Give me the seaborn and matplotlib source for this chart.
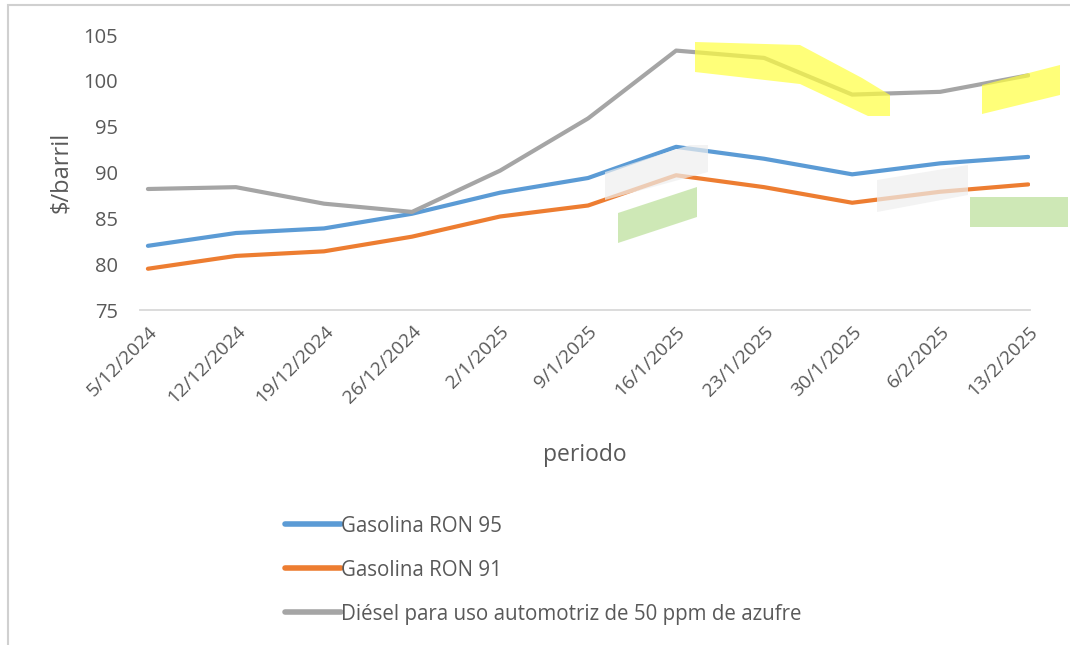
import numpy as np
import pandas as pd
import matplotlib
matplotlib.use("Agg")
import matplotlib.pyplot as plt
from matplotlib.patches import Polygon, Rectangle
import seaborn as sns

# ==============================
# Data
# ==============================
periodos = ["5/12/2024", "12/12/2024", "19/12/2024", "26/12/2024", "2/1/2025",
            "9/1/2025", "16/1/2025", "23/1/2025", "30/1/2025", "6/2/2025", "13/2/2025"]
ron95 = [82.0, 83.4, 83.9, 85.5, 87.8, 89.4, 92.8, 91.5, 89.8, 91.0, 91.7]
ron91 = [79.5, 80.9, 81.4, 83.0, 85.2, 86.4, 89.7, 88.4, 86.7, 87.9, 88.7]
diesel = [88.2, 88.4, 86.6, 85.7, 90.2, 95.9, 103.3, 102.5, 98.5, 98.8, 100.6]

series_names = ["Gasolina RON 95", "Gasolina RON 91",
                "Diésel para uso automotriz de 50 ppm de azufre"]
colors = ["#5B9BD5", "#ED7D31", "#A5A5A5"]

df = pd.DataFrame({
    "pos": list(range(len(periodos))) * 3,
    "valor": ron95 + ron91 + diesel,
    "serie": np.repeat(series_names, len(periodos)),
})

# ==============================
# Style
# ==============================
sns.set_style("white")
plt.rcParams["font.family"] = ["Open Sans", "DejaVu Sans"]
txt = "#595959"
axc = "#D9D9D9"

W, H = 1070, 645
fig = plt.figure(figsize=(W / 100, H / 100), dpi=100)
ax = fig.add_axes([140 / W, 1 - 310 / H, (1030 - 140) / W, (310 - 35) / H])

sns.lineplot(data=df, x="pos", y="valor", hue="serie", hue_order=series_names,
             palette=colors, linewidth=3.0, ax=ax, legend=False,
             solid_capstyle="round")

ax.set_ylim(75, 105)
ax.set_yticks(range(75, 106, 5))
ax.set_xlim(-0.09, 10.02)
ax.set_xticks(range(len(periodos)))
ax.set_xticklabels(periodos, rotation=45, ha="right", rotation_mode="anchor")

for s in ["top", "right", "left"]:
    ax.spines[s].set_visible(False)
ax.spines["bottom"].set_color(axc)
ax.spines["bottom"].set_linewidth(1.3)
ax.tick_params(axis="y", length=0, labelsize=14.5, labelcolor=txt, pad=16)
ax.tick_params(axis="x", length=8, width=1.3, color=axc, direction="out",
               labelsize=13.8, labelcolor=txt, pad=1)

ax.set_ylabel("$/barril", fontsize=17, color=txt, labelpad=7)
ax.set_xlabel("periodo", fontsize=16.5, color=txt, labelpad=26)

# legend below the plot
handles = [plt.Line2D([], [], color=c, lw=4, solid_capstyle="round") for c in colors]
fig.legend(handles, series_names, loc="upper left",
           bbox_to_anchor=(266 / W, 1 - 497 / H), frameon=False,
           fontsize=14.8, labelcolor=txt, handlelength=2.75, handletextpad=0.02,
           labelspacing=1.12)

# outer chart-area border
fig.add_artist(Rectangle((8 / W, -0.05), 1.1, 1 - 5 / H + 0.05,
                         transform=fig.transFigure, fill=False,
                         edgecolor="#D0D0D0", lw=1.5))

# highlighter marks over the picture
def mark(pts, color, alpha):
    p = Polygon([(x / W, 1 - y / H) for x, y in pts], closed=True,
                transform=fig.transFigure, facecolor=color, edgecolor="none",
                alpha=alpha, zorder=10)
    fig.add_artist(p)

mark([(695, 42), (800, 45), (862, 78), (890, 95), (890, 116), (868, 116),
      (800, 84), (695, 72)], "#FFFF40", 0.7)
mark([(982, 85), (1060, 65), (1060, 95), (982, 114)], "#FFFF40", 0.7)
mark([(618, 213), (697, 187), (697, 217), (618, 243)], "#B5DD90", 0.65)
mark([(970, 197), (1068, 197), (1068, 227), (970, 227)], "#B5DD90", 0.65)
mark([(605, 172), (690, 145), (708, 145), (708, 172), (605, 200)], "#EEEEEE", 0.7)
mark([(877, 180), (968, 165), (968, 195), (877, 212)], "#EEEEEE", 0.7)

fig.savefig("out.png", dpi=100)
